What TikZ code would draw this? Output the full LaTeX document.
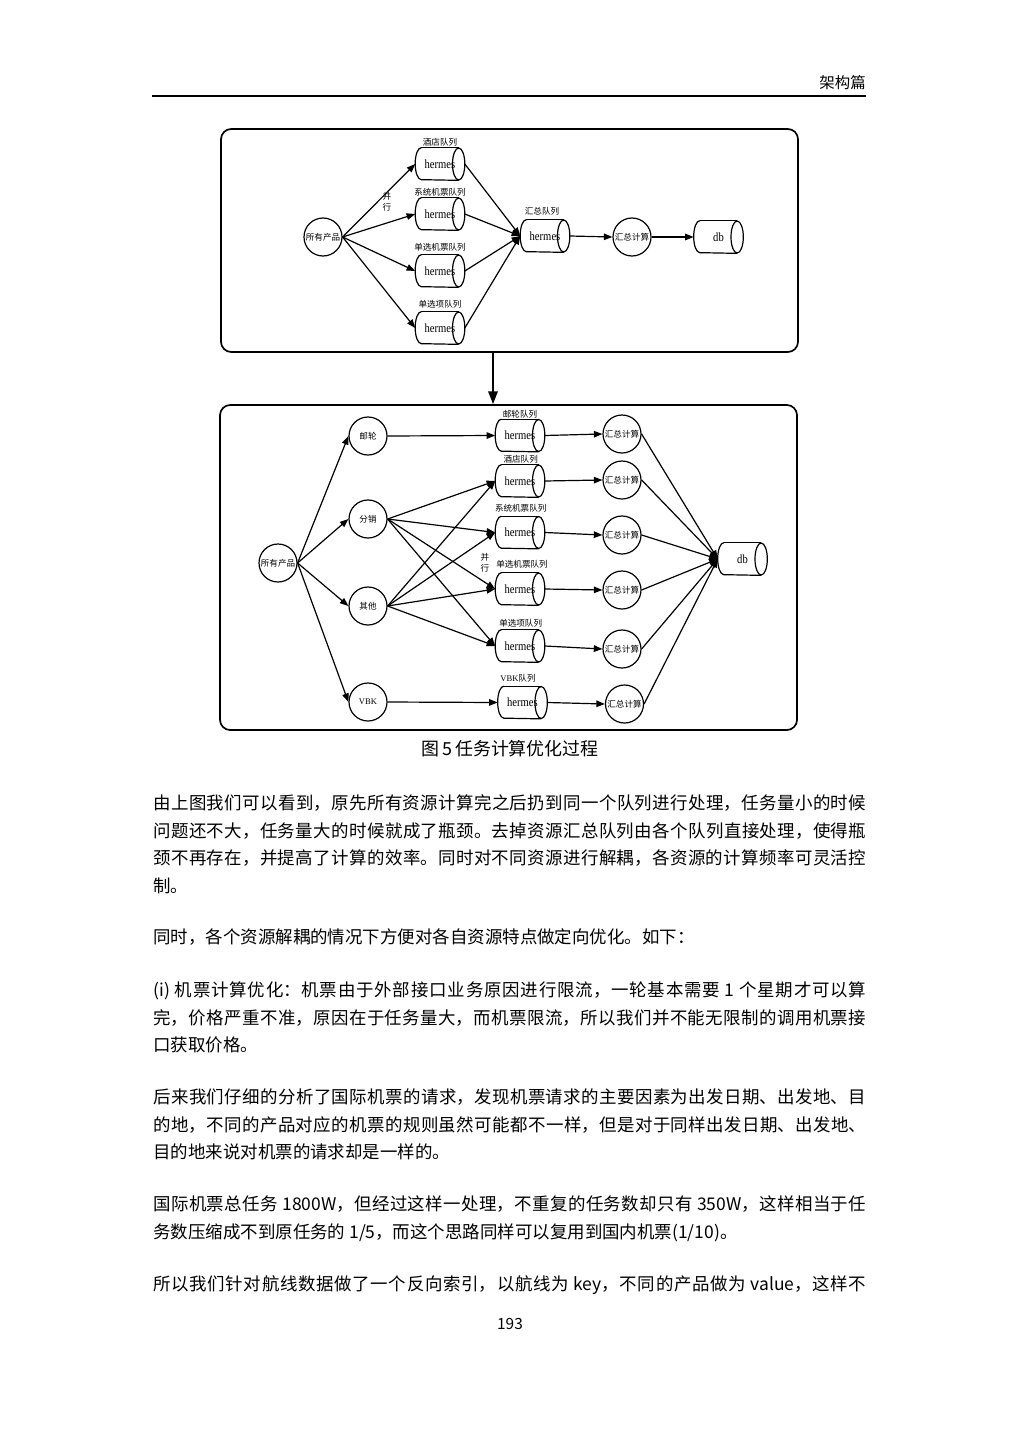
\documentclass[tikz,border=0pt]{standalone}
\usepackage{fontspec}
\setmainfont{Noto Sans CJK SC}
\newfontfamily\cjkfont{Noto Sans CJK SC}
\newfontfamily\serfont{Liberation Serif}
\newfontfamily\hermfont[FakeStretch=0.85]{Liberation Serif}
\usetikzlibrary{arrows.meta}
\XeTeXlinebreaklocale "zh"
\XeTeXlinebreakskip=0pt plus 1pt minus 0.2pt
\tolerance=9999
\hbadness=10000
\newcommand\bodyfont{\fontsize{10.2pt}{16.07pt}\selectfont}
\newcommand\lblfont{\cjkfont\fontsize{5pt}{6.2pt}\selectfont}
\newcommand\cirfont{\cjkfont\fontsize{5pt}{6.2pt}\selectfont}
\newcommand\hfont{\hermfont\fontsize{7.3pt}{8pt}\selectfont}
\newcommand\hcyl[4]{%
  \node[inner sep=0pt, minimum width=28.6pt, minimum height=18.7pt, font=\hfont] (#1) at (#2,#3) {#4};
  \draw[cylline] ([xshift=3.6pt]#1.north west) arc[start angle=90, end angle=270, x radius=3.6pt, y radius=9.35pt] -- ([xshift=-3.6pt]#1.south east);
  \draw[cylline] ([xshift=3.6pt]#1.north west) -- ([xshift=-3.6pt]#1.north east);
  \draw[cylline] ([xshift=-3.6pt]#1.east) ellipse[x radius=3.6pt, y radius=9.35pt];
}
\newcommand\para[3]{%
  \node[anchor=base west, inner sep=0pt] (#1) at (153,#2) {\parbox[t]{416.5pt}{\bodyfont #3}};
}
\begin{document}
\begin{tikzpicture}[x=0.5842pt, y=-0.5842pt,
  panel/.style={draw, rounded corners=6pt, line width=1pt, inner sep=0pt},
  circnode/.style={circle, draw, line width=0.7pt, minimum size=22.2pt, inner sep=0pt, font=\cirfont},
  cylline/.style={line width=0.7pt},
  lbl/.style={inner sep=0pt, font=\lblfont, align=center},
  arr/.style={line width=0.7pt, -{Triangle[length=5pt, width=3.8pt]}},
  bigarr/.style={line width=1.2pt, -{Triangle[length=7.5pt, width=5.5pt]}}
]
\useasboundingbox (0,0) rectangle (1019,1440);

% header
\node[anchor=base east, inner sep=0pt, font=\fontsize{9pt}{10pt}\selectfont] (hdr) at (866,88.9) {架构篇};
\draw[line width=1.5pt] (152,96) -- (866,96);

% panels
\node[panel, minimum width=337.1pt, minimum height=130.3pt] (box1) at (509.5,240.5) {};
\node[panel, minimum width=337.1pt, minimum height=189.9pt] (box2) at (508.5,567.5) {};
\coordinate (ax) at (493,0);
\draw[bigarr] (ax |- box1.south) -- (ax |- box2.north);

% ---------- top diagram ----------
\node[circnode] (p1) at (323,237) {所有产品};
\hcyl{t1}{440}{164}{hermes}
\hcyl{t2}{440}{214}{hermes}
\hcyl{t3}{440}{271}{hermes}
\hcyl{t4}{440}{328}{hermes}
\hcyl{hz}{545}{236}{hermes}
\node[circnode] (c1) at (632,237) {汇总计算};
\hcyl{db1}{718.5}{237}{db}
\node[lbl] (l1) at (440,142) {酒店队列};
\node[lbl] (l2) at (440,192) {系统机票队列};
\node[lbl] (l3) at (440,247) {单选机票队列};
\node[lbl] (l4) at (440,304) {单选项队列};
\node[lbl] (lhz) at (542,211) {汇总队列};
\node[lbl] (bx1) at (387,202) {并\\行};
\foreach \t in {t1,t2,t3,t4} {
  \draw[arr] (p1.east) -- (\t.west);
  \draw[arr] (\t.east) -- (hz.west);
}
\draw[arr] (hz.east) -- (c1.west);
\draw[arr] (c1.east) -- (db1.west);

% ---------- bottom diagram ----------
\node[circnode] (p2) at (278,563) {所有产品};
\node[circnode] (na) at (368,436) {邮轮};
\node[circnode] (nb) at (368,519) {分销};
\node[circnode] (nc) at (368,606) {其他};
\node[circnode, font=\serfont\fontsize{5pt}{6pt}\selectfont] (nd) at (368,702) {VBK};
\hcyl{q1}{520}{435.5}{hermes}
\hcyl{q2}{520}{481}{hermes}
\hcyl{q3}{520}{532.5}{hermes}
\hcyl{q4}{520}{589}{hermes}
\hcyl{q5}{520}{646}{hermes}
\hcyl{q6}{522.5}{702.5}{hermes}
\node[lbl] (m1) at (520,414) {邮轮队列};
\node[lbl] (m2) at (520.7,459) {酒店队列};
\node[lbl] (m3) at (520.7,508) {系统机票队列};
\node[lbl] (m4) at (522,564) {单选机票队列};
\node[lbl] (m5) at (520.7,623) {单选项队列};
\node[lbl] (m6) at (518,678) {\serfont VBK\cjkfont 队列};
\node[lbl] (bx2) at (485,562.5) {并\\行};
\node[circnode] (s1) at (622,434) {汇总计算};
\node[circnode] (s2) at (622,480) {汇总计算};
\node[circnode] (s3) at (622,535) {汇总计算};
\node[circnode] (s4) at (622,590) {汇总计算};
\node[circnode] (s5) at (622,649) {汇总计算};
\node[circnode] (s6) at (624.5,704) {汇总计算};
\hcyl{db2}{742.5}{559}{db}
\foreach \n in {na,nb,nc,nd} \draw[arr] (p2.east) -- (\n.west);
\draw[arr] (na.east) -- (q1.west);
\foreach \q in {q2,q3,q4,q5} {
  \draw[arr] (nb.east) -- (\q.west);
  \draw[arr] (nc.east) -- (\q.west);
}
\draw[arr] (nd.east) -- (q6.west);
\foreach \i in {1,...,6} {
  \draw[arr] (q\i.east) -- (s\i.west);
  \draw[arr] (s\i.east) -- (db2.west);
}

% caption
\node[anchor=base, inner sep=0pt, font=\fontsize{10.5pt}{12pt}\selectfont] (cap) at (510,755.8) {图\,5\,任务计算优化过程};

% body text
\para{pa}{809.6}{由上图我们可以看到，原先所有资源计算完之后扔到同一个队列进行处理，任务量小的时候\linebreak 问题还不大，任务量大的时候就成了瓶颈。去掉资源汇总队列由各个队列直接处理，使得瓶\linebreak 颈不再存在，并提高了计算的效率。同时对不同资源进行解耦，各资源的计算频率可灵活控\linebreak 制。}
\para{pb}{943.6}{同时，各个资源解耦的情况下方便对各自资源特点做定向优化。如下：}
\para{pc}{996.6}{(i) 机票计算优化：机票由于外部接口业务原因进行限流，一轮基本需要 1 个星期才可以算\linebreak 完，价格严重不准，原因在于任务量大，而机票限流，所以我们并不能无限制的调用机票接\linebreak 口获取价格。}
\para{pd}{1103.6}{后来我们仔细的分析了国际机票的请求，发现机票请求的主要因素为出发日期、出发地、目\linebreak 的地，不同的产品对应的机票的规则虽然可能都不一样，但是对于同样出发日期、出发地、\linebreak 目的地来说对机票的请求却是一样的。}
\para{pe}{1210.6}{国际机票总任务 1800W，但经过这样一处理，不重复的任务数却只有 350W，这样相当于任\linebreak 务数压缩成不到原任务的 1/5，而这个思路同样可以复用到国内机票(1/10)。}
\para{pf}{1290.6}{\parfillskip=0pt 所以我们针对航线数据做了一个反向索引，以航线为 key，不同的产品做为 value，这样不}

% page number
\node[anchor=base, inner sep=0pt, font=\fontsize{9pt}{10pt}\selectfont] (pgn) at (510,1329.6) {193};
\end{tikzpicture}
\end{document}
